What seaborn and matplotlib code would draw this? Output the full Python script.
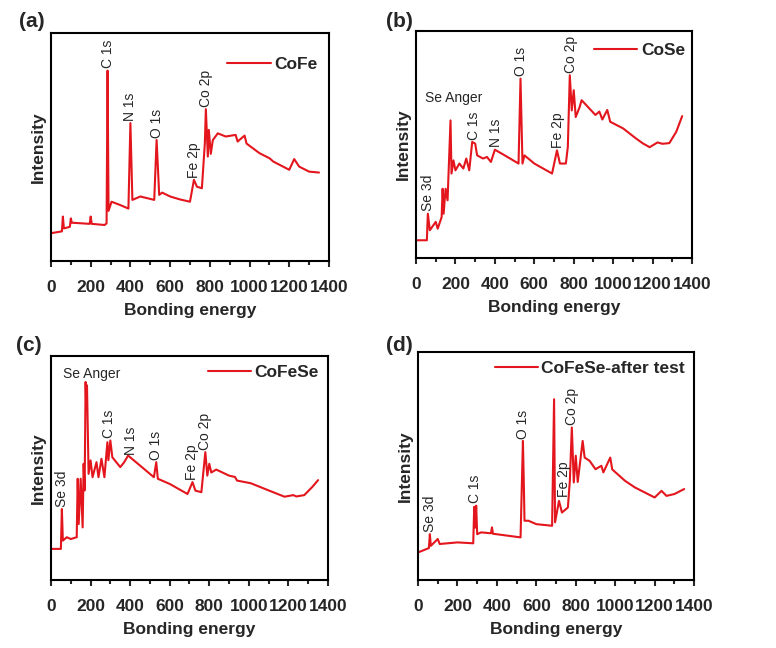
import numpy as np
import pandas as pd
import matplotlib
matplotlib.use("Agg")
import matplotlib.pyplot as plt
import seaborn as sns

# ---- data (intensity in relative units 0-100) ----
cofe_x = [0, 55, 60, 65, 95, 100, 105, 195, 200, 205, 270, 280, 285, 290, 305, 350, 390, 400, 410,
          450, 520, 532, 545, 560, 600, 650, 700, 720, 735, 760, 775, 780, 790, 795, 805, 815, 840,
          880, 930, 940, 975, 985, 1050, 1100, 1120, 1200, 1225, 1250, 1300, 1350]
cofe_y = [12.2, 13.0, 19.5, 14.3, 15.0, 18.7, 16.8, 16.3, 19.5, 16.3, 15.8, 16.5, 83.5, 22.0, 26.0,
          24.5, 23.0, 60.5, 26.8, 28.3, 26.8, 53.1, 29.0, 30.0, 28.3, 27.0, 26.0, 35.6, 32.6, 31.9,
          51.7, 66.6, 45.8, 57.5, 47.0, 53.0, 56.0, 54.6, 55.3, 52.4, 55.0, 51.5, 47.3, 45.1, 43.6,
          40.0, 44.7, 41.4, 39.2, 38.8]

cose_x = [0, 55, 60, 70, 100, 110, 130, 135, 140, 150, 160, 175, 180, 190, 200, 220, 240, 255, 270,
          285, 300, 310, 340, 360, 380, 400, 450, 520, 530, 540, 550, 600, 690, 715, 730, 760, 770,
          780, 790, 800, 810, 830, 840, 910, 930, 945, 970, 985, 1050, 1115, 1150, 1185, 1225,
          1250, 1285, 1320, 1350]
cose_y = [7.8, 7.8, 19.5, 12.2, 15.9, 12.9, 18.0, 30.5, 19.5, 30.5, 25.4, 60.6, 37.2, 43.0, 38.6,
          41.6, 39.4, 43.8, 38.6, 51.1, 50.4, 45.2, 43.8, 44.5, 42.3, 47.7, 45.2, 41.6, 79.0, 41.6,
          45.2, 41.6, 37.2, 47.4, 41.6, 41.6, 48.9, 80.5, 65.0, 73.9, 62.1, 66.5, 69.5, 63.0, 64.5,
          61.0, 65.2, 60.0, 57.1, 52.7, 50.5, 48.8, 50.9, 50.3, 50.6, 55.6, 62.5]

cofese_x = [0, 50, 55, 60, 80, 100, 130, 135, 140, 150, 160, 165, 170, 175, 178, 182, 190, 200,
            210, 230, 240, 255, 270, 285, 290, 300, 310, 350, 370, 390, 400, 450, 520, 532, 540,
            600, 690, 715, 730, 760, 780, 790, 800, 810, 835, 900, 930, 940, 1010, 1100, 1180,
            1225, 1240, 1280, 1320, 1350]
cofese_y = [13.9, 13.9, 31.7, 17.6, 19.1, 18.3, 19.1, 45.2, 25.0, 45.2, 23.5, 51.9, 40.0, 88.4,
            77.2, 86.9, 47.4, 53.4, 45.9, 52.6, 45.9, 54.1, 45.9, 61.5, 53.5, 62.3, 54.8, 50.4,
            52.6, 55.6, 54.8, 51.1, 45.9, 52.6, 45.2, 42.9, 38.4, 43.7, 39.9, 39.2, 57.1, 46.6,
            51.9, 48.0, 49.3, 46.6, 46.0, 44.4, 43.2, 40.0, 37.2, 37.9, 37.3, 37.9, 41.5, 44.6]

after_x = [0, 55, 60, 65, 100, 110, 200, 280, 285, 290, 295, 300, 320, 370, 375, 380, 520, 532,
           536, 540, 560, 600, 680, 690, 695, 715, 730, 760, 770, 780, 790, 800, 810, 835, 845,
           870, 900, 930, 940, 975, 985, 1050, 1100, 1200, 1235, 1260, 1300, 1350]
after_y = [12.1, 14.0, 20.1, 15.0, 18.0, 15.8, 16.5, 16.1, 32.1, 23.0, 32.6, 20.1, 20.9, 20.5,
           23.1, 20.3, 18.7, 61.0, 45.0, 26.0, 26.0, 24.5, 23.8, 79.3, 25.3, 34.7, 29.6, 31.8,
           43.5, 66.9, 42.8, 54.5, 43.0, 61.0, 53.7, 52.3, 48.6, 50.1, 47.2, 53.7, 48.5, 43.5,
           40.6, 36.2, 39.1, 36.9, 37.7, 39.9]

names = ["CoFe", "CoSe", "CoFeSe", "CoFeSe-after test"]
letters = ["(a)", "(b)", "(c)", "(d)"]
xs = [cofe_x, cose_x, cofese_x, after_x]
ys = [cofe_y, cose_y, cofese_y, after_y]

# peak labels: (text, peak energy, text x shift, rotation, gap above peak)
peaks = [
    [("C 1s", 285, 0, 90, 1), ("N 1s", 400, 0, 90, 1), ("O 1s", 532, 0, 90, 1),
     ("Fe 2p", 720, 0, 90, 1), ("Co 2p", 780, 0, 90, 1)],
    [("Se 3d", 60, 2, 90, 1), ("Se Anger", 175, 16, 0, 7), ("C 1s", 285, 10, 90, 1),
     ("N 1s", 400, 8, 90, 1), ("O 1s", 530, 4, 90, 1), ("Fe 2p", 715, 3, 90, 1),
     ("Co 2p", 780, 5, 90, 1)],
    [("Se 3d", 55, 2, 90, 1), ("Se Anger", 175, 30, 0, 0.5), ("C 1s", 300, -5, 90, 1),
     ("N 1s", 400, 2, 90, 1), ("O 1s", 532, -3, 90, 1), ("Fe 2p", 715, 0, 90, 1),
     ("Co 2p", 780, 0, 90, 1)],
    [("Se 3d", 60, 0, 90, 1), ("C 1s", 290, 0, 90, 1), ("O 1s", 532, 0, 90, 1),
     ("Fe 2p", 715, 24, 90, 1.5), ("Co 2p", 780, 0, 90, 1)],
]

sns.set_style("ticks")
plt.rcParams["font.family"] = ["Liberation Sans", "DejaVu Sans"]

fig = plt.figure(figsize=(7.76, 6.48), dpi=100)
boxes = [[0.0657, 0.5972, 0.3582, 0.3519],
         [0.5361, 0.6019, 0.3557, 0.3503],
         [0.0657, 0.1049, 0.3570, 0.3457],
         [0.5387, 0.1049, 0.3557, 0.3519]]
legend_anchor = [(1.008, 0.956), (1.025, 1.009), (1.018, 1.022), (1.018, 1.022)]
letter_pos = [(0.025, 0.982), (0.497, 0.982), (0.021, 0.482), (0.497, 0.482)]
red = "#e3161d"

for i in range(4):
    ax = fig.add_axes(boxes[i])
    df = pd.DataFrame({"energy": xs[i], "intensity": ys[i]})
    sns.lineplot(data=df, x="energy", y="intensity", ax=ax, color=red, linewidth=1.5,
                 label=names[i], sort=False)
    ax.set_xlim(0, 1400)
    ax.set_ylim(0, 100)
    ax.set_xticks(range(0, 1401, 200))
    ax.set_xticks(range(100, 1400, 200), minor=True)
    ax.set_yticks([])
    ax.tick_params(axis="x", which="major", length=4, width=1.5, direction="out", pad=9.5,
                   labelsize=12.5)
    ax.tick_params(axis="x", which="minor", length=3, width=1.5, direction="out")
    for lab in ax.get_xticklabels():
        lab.set_fontweight("bold")
    for sp in ax.spines.values():
        sp.set_linewidth(1.5)
        sp.set_color("black")
    ax.set_xlabel("Bonding energy", fontsize=12.5, fontweight="bold", labelpad=6)
    ax.set_ylabel("Intensity", fontsize=12.5, fontweight="bold", labelpad=4)
    leg = ax.legend(loc="upper right", bbox_to_anchor=legend_anchor[i], frameon=False,
                    handlelength=2.5, handletextpad=0.2, borderaxespad=0.4,
                    prop={"size": 12.5, "weight": "bold"})
    for ln in leg.get_lines():
        ln.set_linewidth(1.5)

    ex = np.array(xs[i])
    ey = np.array(ys[i])
    for text, px, dx, rot, gap in peaks[i]:
        top = ey[np.abs(ex - px) <= 6].max()
        ax.text(px + dx, top + gap, text, rotation=rot, ha="center", va="bottom", fontsize=10)

    fig.text(letter_pos[i][0], letter_pos[i][1], letters[i], fontsize=15, fontweight="bold",
             va="top", ha="left")

fig.savefig("out.png", dpi=100, facecolor="white")
